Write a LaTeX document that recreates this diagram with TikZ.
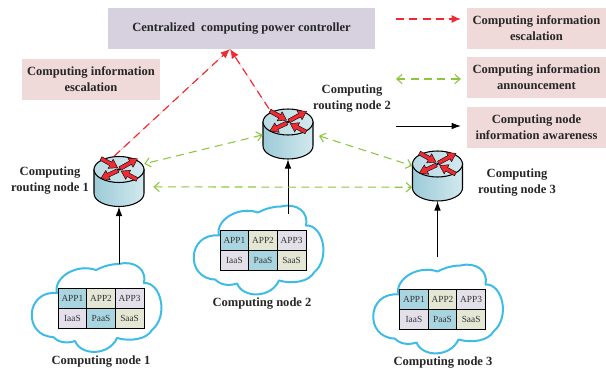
\documentclass[tikz,border=0pt]{standalone}
\usepackage{fontspec}
\setmainfont{Liberation Serif}
\usetikzlibrary{arrows.meta}

\definecolor{ctrlfill}{HTML}{D6D0DF}
\definecolor{tagfill}{HTML}{EFD9D9}
\definecolor{cellblue}{HTML}{A9D5E0}
\definecolor{cellgreen}{HTML}{E3E7D3}
\definecolor{celllav}{HTML}{E4E0EA}
\definecolor{cloudline}{HTML}{3FBCE6}
\definecolor{redline}{HTML}{EE2A32}
\definecolor{greenline}{HTML}{8CC63F}
\definecolor{bodydark}{HTML}{9CCBD8}
\definecolor{bodylight}{HTML}{D2E9EE}

\tikzset{
  tag/.style={rectangle, fill=tagfill, minimum width=104pt, minimum height=31pt, inner sep=0pt, align=center, font=\fontsize{9.4}{12}\selectfont\bfseries, text=black!85},
  title/.style={align=center, inner sep=0pt, font=\fontsize{9.4}{12}\selectfont\bfseries, text=black!85},
  redarrow/.style={-{Latex[length=7pt,width=6pt]}, draw=redline, fill=redline, dash pattern=on 6pt off 4pt, line width=0.9pt},
  greenarrow/.style={{Straight Barb[length=4pt,width=7pt]}-{Straight Barb[length=4pt,width=7pt]}, draw=greenline, dash pattern=on 6pt off 4pt, line width=0.8pt},
  blackarrow/.style={-{Latex[length=7pt,width=5pt]}, black, line width=0.7pt},
  cellbox/.style={rectangle, draw=black, line width=0.6pt, minimum width=21.5pt, minimum height=15pt, inner sep=0pt, font=\fontsize{7}{8}\selectfont, text=black!80},
  router/.pic={
    \node[minimum width=37.5pt, minimum height=37.5pt, inner sep=0pt] at (0,12) (-body) {};
    \path[left color=bodydark, right color=bodylight, draw=black, line width=0.8pt]
      (-25,0) -- (-25,24) arc[start angle=180, end angle=0, x radius=25, y radius=13] -- (25,0) -- cycle;
    \path[left color=bodydark!70!white, right color=bodylight, draw=black, line width=0.8pt]
      (0,0) ellipse [x radius=25, y radius=13];
    % two heads leave the centre, two come in
    \foreach \sx/\sy/\ang/\len in {1/-1/29/20, -1/1/205/19, -18/-11/-29/19, 18/10/152/18}
      \draw[redline, fill=redline, draw=black, line width=0.3pt, shift={(\sx,\sy)}, rotate=\ang]
        (0,-2) -- (\len-8,-2) -- (\len-8,-5.2) -- (\len,0) -- (\len-8,5.2) -- (\len-8,2) -- (0,2) -- cycle;
    \fill[black] (0,0) circle (1.3);
  },
  cloudbox/.pic={
    \node[minimum width=100pt, minimum height=70pt, inner sep=0pt] at (0,0) (-body) {};
    \draw[cloudline, line width=1.5pt, fill=white, line join=round]
      (18,-44) .. controls (34,-48) and (46,-38) .. (43,-25)
      .. controls (60,-26) and (68,8) .. (51,22)
      .. controls (46,31) and (30,34) .. (16,30)
      .. controls (8,48) and (-20,48) .. (-26,33)
      .. controls (-35,36) and (-43,34) .. (-48,29)
      .. controls (-78,28) and (-76,-18) .. (-44,-15)
      .. controls (-48,-30) and (-25,-45) .. (-5,-38)
      .. controls (3,-42) and (10,-44) .. (18,-44) -- cycle;
    \foreach \col/\row/\txt/\clr in {0/0/APP1/cellblue, 1/0/APP2/cellgreen, 2/0/APP3/celllav,
                                     0/1/IaaS/celllav, 1/1/PaaS/cellblue, 2/1/SaaS/cellgreen}
      \node[cellbox, fill=\clr] at (-28.6+28.6*\col, -10+20*\row) (-cell\col\row) {\txt};
  }
}

\begin{document}
\begin{tikzpicture}[x=0.75pt, y=-0.75pt]
    \useasboundingbox (0,0) rectangle (606,370);

    \node[rectangle, fill=ctrlfill, minimum width=200pt, minimum height=31pt, inner sep=0pt, font=\fontsize{9.4}{12}\selectfont\bfseries, text=black!85] at (241.5,28.5) (CTRL) {Centralized\ \ computing power controller};
    \node[tag] at (91,79.5) (ESC) {Computing information\\escalation};

    \pic (R1) at (119,169.5) {router};
    \pic (R2) at (288,122) {router};
    \pic (R3) at (437.5,164) {router};

    \node[title] at (50,181) (R1text) {Computing\\routing node 1};
    \node[title] at (352,98.5) (R2text) {Computing\\routing node 2};
    \node[title] at (517,183) (R3text) {Computing\\routing node 3};

    \pic (C1) at (101,308) {cloudbox};
    \pic (C2) at (263,250.5) {cloudbox};
    \pic (C3) at (442.5,309.5) {cloudbox};

    \node[title] at (101,362) (C1text) {Computing node 1};
    \node[title] at (262,304) (C2text) {Computing node 2};
    \node[title] at (443,363) (C3text) {Computing node 3};

    \coordinate (R1in) at (119,264);
    \coordinate (R2in) at (288,214);
    \coordinate (R3in) at (437.5,257);
    \draw[blackarrow] (R1in) -- (R1-body.south);
    \draw[blackarrow] (R2in) -- (R2-body.south);
    \draw[blackarrow] (R3in) -- (R3-body.south);

    \coordinate (CTRLin) at (230,49);
    \draw[redarrow] (R1-body.101.5) -- (CTRLin);
    \draw[redarrow] (R2-body.127) -- (CTRLin);

    \draw[greenarrow] (R2-body.182) -- (R1-body.35);
    \draw[greenarrow, shorten <=4.5pt] (R2-body.east) -- (R3-body.158);
    \draw[greenarrow, shorten <=6.75pt] (R1-body.-12) -- (R3-body.204);

    \node[tag] at (536.5,28.5) (LEGa) {Computing information\\escalation};
    \node[tag] at (536.5,77.5) (LEGb) {Computing information\\announcement};
    \node[tag] at (536.5,127.5) (LEGc) {Computing node\\information awareness};

    \coordinate (a1) at (396,19);
    \coordinate (a2) at (396,79);
    \coordinate (a3) at (396,126);
    \draw[redarrow, shorten >=4.5pt] (a1) -- (a1 -| LEGa.west);
    \draw[greenarrow, shorten >=4.5pt] (a2) -- (a2 -| LEGb.west);
    \draw[blackarrow, shorten >=4.5pt] (a3) -- (a3 -| LEGc.west);
\end{tikzpicture}
\end{document}
